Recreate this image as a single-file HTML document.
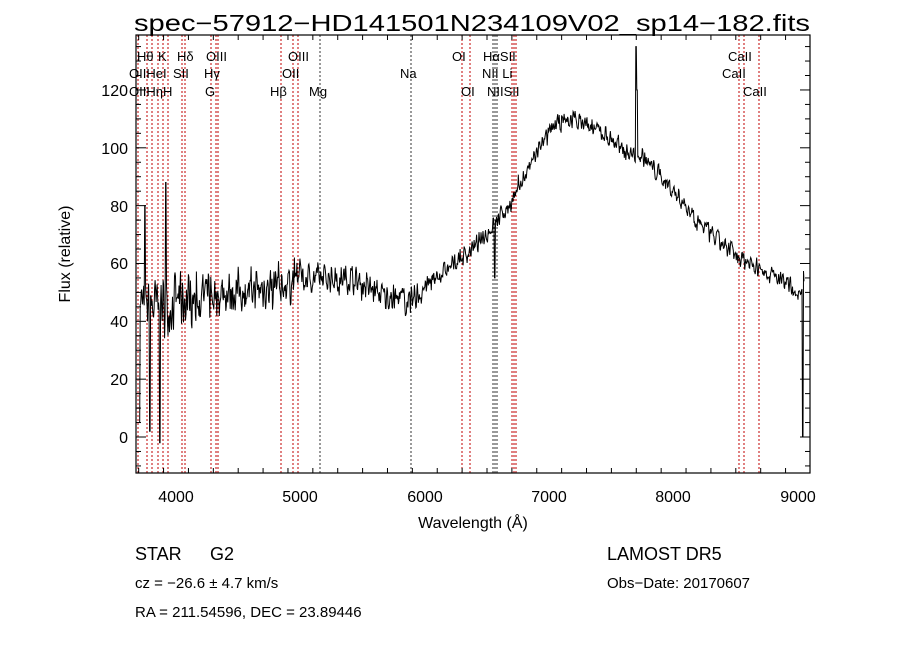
<!DOCTYPE html>
<html><head><meta charset="utf-8"><style>
body{margin:0;background:#fff;width:900px;height:649px;overflow:hidden;font-family:"Liberation Sans",sans-serif}
svg text{font-family:"Liberation Sans",sans-serif;fill:#000}
</style></head><body>
<svg id="s" width="900" height="649" viewBox="0 0 900 649" xmlns="http://www.w3.org/2000/svg">
<rect width="900" height="649" fill="#fff"/>
<text x="472" y="31" font-size="23" text-anchor="middle" textLength="676" lengthAdjust="spacingAndGlyphs">spec−57912−HD141501N234109V02_sp14−182.fits</text>
<g id="lines"></g>
<polyline id="spec" fill="none" stroke="#000" stroke-width="1"/>
<rect x="136" y="35" width="674" height="438" fill="none" stroke="#000" stroke-width="1.2"/>
<g id="ticks" stroke="#000" stroke-width="1"></g>
<g font-size="16" text-anchor="middle">
<text x="176" y="502">4000</text><text x="300" y="502">5000</text><text x="425" y="502">6000</text>
<text x="549" y="502">7000</text><text x="673" y="502">8000</text><text x="798" y="502">9000</text>
<text x="473" y="528">Wavelength (Å)</text>
</g>
<g font-size="16" text-anchor="end">
<text x="128" y="443">0</text><text x="128" y="385">20</text><text x="128" y="327">40</text>
<text x="128" y="269">60</text><text x="128" y="212">80</text><text x="128" y="154">100</text><text x="128" y="96">120</text>
</g>
<text transform="translate(70,254) rotate(-90)" font-size="16" text-anchor="middle">Flux (relative)</text>
<g font-size="13">
<text x="137" y="61">Hθ</text><text x="158" y="61">K</text><text x="177" y="61">Hδ</text><text x="206" y="61">OIII</text><text x="288" y="61">OIII</text><text x="452" y="61">OI</text><text x="483" y="61">HαSII</text><text x="728" y="61">CaII</text>
<text x="129" y="78">OIIHeI</text><text x="173" y="78">SII</text><text x="204" y="78">Hγ</text><text x="282" y="78">OII</text><text x="400" y="78">Na</text><text x="482" y="78">NII Li</text><text x="722" y="78">CaII</text>
<text x="129" y="96">OIIHη</text><text x="163" y="96">H</text><text x="205" y="96">G</text><text x="270" y="96">Hβ</text><text x="309" y="96">Mg</text><text x="461" y="96">OI</text><text x="487" y="96">NIISII</text><text x="743" y="96">CaII</text>
</g>
<g font-size="18">
<text x="135" y="560">STAR</text><text x="210" y="560">G2</text>
<text x="607" y="560">LAMOST DR5</text>
</g>
<g font-size="15">
<text x="135" y="588" font-family="Liberation Serif">cz = −26.6 ± 4.7 km/s</text>
<text x="607" y="588">Obs−Date: 20170607</text>
<text x="135" y="617">RA = 211.54596, DEC =  23.89446</text>
</g>
</svg>
<script>
var X=l=>176+(l-4000)*0.1244, Y=f=>437-2.892*f;
var ns="http://www.w3.org/2000/svg";
var lg=document.getElementById('lines');
[[138,1],[147,1],[152,1],[158,1],[163,1],[168,1],[182,1],[185,1],[211,1],[216,1],[218,1],[281,1],[293,1],[298,1],[320,0],[411,0],[462,1],[470,1],[493,0],[495,0],[497,0],[512,1],[514,1],[516,1],[739,1],[744,1],[759,1]].forEach(function(a){
var l=document.createElementNS(ns,'line');l.setAttribute('x1',a[0]);l.setAttribute('x2',a[0]);l.setAttribute('y1',35);l.setAttribute('y2',473);
l.setAttribute('stroke',a[1]?'#c00000':'#333');l.setAttribute('stroke-width','1');l.setAttribute('stroke-dasharray','2,2');lg.appendChild(l);});
var tg=document.getElementById('ticks'),t='';
for(var l=3700;l<=9050;l+=200){var x=X(l),big=l%1000==0,h=big?10:5;t+='<line x1="'+x+'" x2="'+x+'" y1="473" y2="'+(473-h)+'"/><line x1="'+x+'" x2="'+x+'" y1="35" y2="'+(35+h)+'"/>';}
for(var f=-10;f<=135;f+=5){var y=Y(f),big=f%20==0,h=big?10:5;t+='<line x1="136" x2="'+(136+h)+'" y1="'+y+'" y2="'+y+'"/><line x1="810" x2="'+(810-h)+'" y1="'+y+'" y2="'+y+'"/>';}
tg.innerHTML=t;
var A=[[3700,45],[3900,45],[4100,48],[4400,50],[4800,52],[5000,55],[5400,55],[5700,48],[5900,47],[6000,52],[6300,62],[6500,70],[6700,82],[6900,98],[7050,108],[7200,110],[7400,106],[7650,98],[7750,97],[8000,85],[8300,70],[8500,63],[8700,58],[8900,53],[9000,50],[9060,55]];
function base(l){for(var i=0;i<A.length-1;i++){if(l<=A[i+1][0]){var u=(l-A[i][0])/(A[i+1][0]-A[i][0]);return A[i][1]+u*(A[i+1][1]-A[i][1]);}}return 55;}
var seed=7;function r(){seed=(seed*16807)%2147483647;return seed/2147483647-0.5;}
var pts=[],prev=0;
for(var l=3700;l<=9050;l+=4){var n=l<4300?24:l<5000?18:l<6000?12:8;var e=r()*n;var f=base(l)+0.5*e+0.5*prev;prev=e;
if(r()>0.47)f+=r()*n*0.8;
if(l>=3748&&l<3756)f=80;if(l>=3788&&l<3796)f=2;if(l>=3868&&l<3876)f=-2;if(l>=3916&&l<3924)f=88;if(l<3712)f=5;
if(l>=6560&&l<6568)f=55;if(l>=7696&&l<7704)f=135;if(l>=7704&&l<7712)f=120;if(l>=9036&&l<9044)f=0;
pts.push(X(l).toFixed(1)+','+Y(f).toFixed(1));}
document.getElementById('spec').setAttribute('points',pts.join(' '));
</script>
</body></html>
